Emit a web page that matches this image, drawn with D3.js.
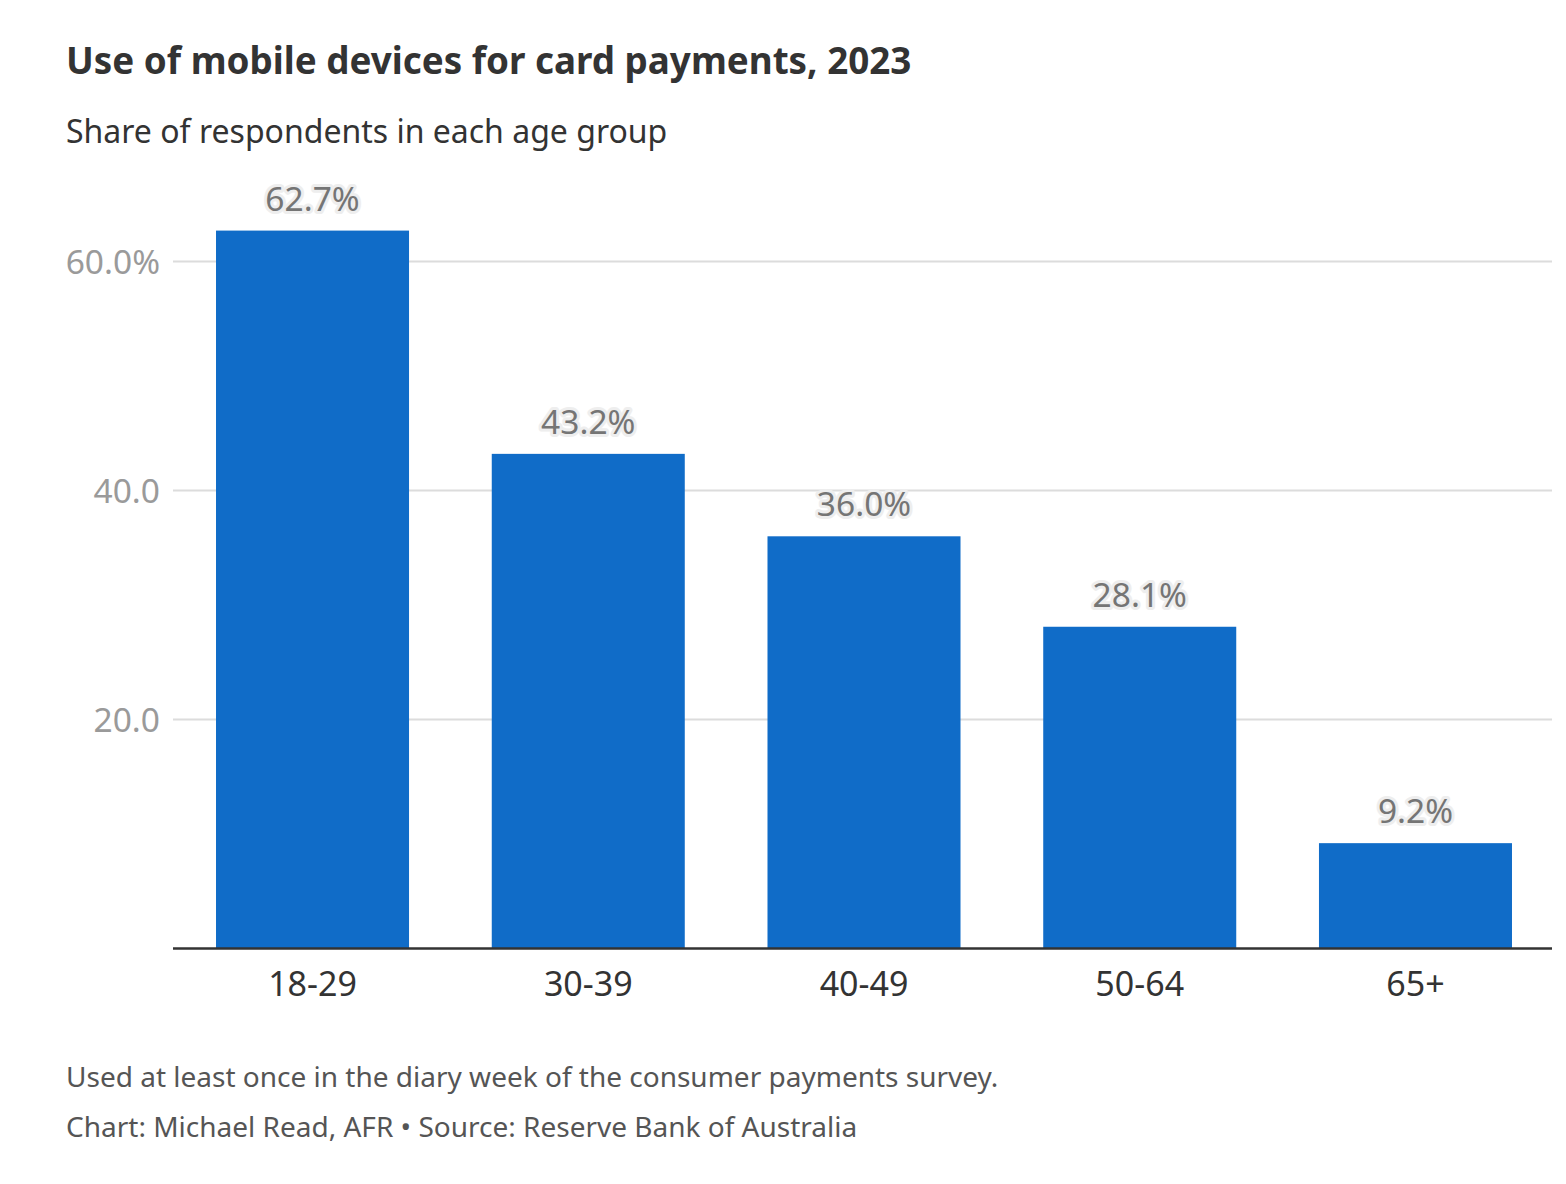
<!DOCTYPE html>
<html>
<head>
<meta charset="utf-8">
<script src="https://cdn.jsdelivr.net/npm/d3@7"></script>
<style>
  html, body { margin: 0; padding: 0; background: #fff; }
  svg { display: block; font-family: "Noto Sans", sans-serif; }
</style>
</head>
<body>
<svg id="chart" width="1566" height="1184"></svg>
<script>
const categories = ["18-29", "30-39", "40-49", "50-64", "65+"];
const values = [62.7, 43.2, 36.0, 28.1, 9.2];
const yTicks = [20, 40, 60];
const yTickLabels = ["20.0", "40.0", "60.0%"];
const titleText = "Use of mobile devices for card payments, 2023";
const subtitleText = "Share of respondents in each age group";
const notes = ["Used at least once in the diary week of the consumer payments survey.",
               "Chart: Michael Read, AFR \u2022 Source: Reserve Bank of Australia"];

(function () {
const svg = d3.select("#chart");
const plotLeft = 173, plotRight = 1552, plotBottom = 948.5;

const x = d3.scaleBand().domain(categories).range([plotLeft, 1555]).paddingInner(0.3).paddingOuter(0.156);
const y = d3.scaleLinear().domain([0, 68]).range([plotBottom, plotBottom - 68 * (229 / 20)]);

svg.append("text").attr("x", 66).attr("y", 74).attr("font-size", 36.8).attr("font-weight", 700)
  .attr("fill", "#333").text(titleText);
svg.append("text").attr("x", 66).attr("y", 143).attr("font-size", 32)
  .attr("fill", "#333").text(subtitleText);

// gridlines
svg.append("g").selectAll("line").data(yTicks).join("line")
  .attr("x1", plotLeft).attr("x2", plotRight)
  .attr("y1", d => y(d)).attr("y2", d => y(d))
  .attr("stroke", "#dcdcdc").attr("stroke-width", 2);

svg.append("g").selectAll("text").data(yTicks).join("text")
  .attr("x", 160).attr("y", d => y(d) + 12)
  .attr("text-anchor", "end").attr("font-size", 33.5).attr("fill", "#9a9a9a")
  .text((d, i) => yTickLabels[i]);

// bars
svg.append("g").selectAll("rect").data(values).join("rect")
  .attr("x", (d, i) => x(categories[i]))
  .attr("width", x.bandwidth())
  .attr("y", d => y(d))
  .attr("height", d => plotBottom - y(d))
  .attr("fill", "#106cc8");

// baseline
svg.append("line").attr("x1", plotLeft).attr("x2", plotRight).attr("y1", plotBottom).attr("y2", plotBottom)
  .attr("stroke", "#333").attr("stroke-width", 2.5);

// value labels
const vl = svg.append("g");
vl.selectAll("text.halo").data(values).join("text")
  .attr("class", "halo")
  .attr("x", (d, i) => x(categories[i]) + x.bandwidth() / 2)
  .attr("y", d => y(d) - 20)
  .attr("text-anchor", "middle").attr("font-size", 33.5)
  .attr("fill", "#eeeeee").attr("stroke", "#eeeeee").attr("stroke-width", 6).attr("stroke-linejoin", "round")
  .text(d => d.toFixed(1) + "%");
vl.selectAll("text.lab").data(values).join("text")
  .attr("class", "lab")
  .attr("x", (d, i) => x(categories[i]) + x.bandwidth() / 2)
  .attr("y", d => y(d) - 20)
  .attr("text-anchor", "middle").attr("font-size", 33.5)
  .attr("fill", "#757575")
  .text(d => d.toFixed(1) + "%");

// x axis labels
svg.append("g").selectAll("text").data(categories).join("text")
  .attr("x", d => x(d) + x.bandwidth() / 2)
  .attr("y", 996)
  .attr("text-anchor", "middle").attr("font-size", 34).attr("fill", "#333")
  .text(d => d);

svg.append("g").selectAll("text").data(notes).join("text")
  .attr("x", 66).attr("y", (d, i) => 1087 + i * 50)
  .attr("font-size", 28).attr("fill", "#555")
  .text(d => d);
})();
</script>
</body>
</html>
